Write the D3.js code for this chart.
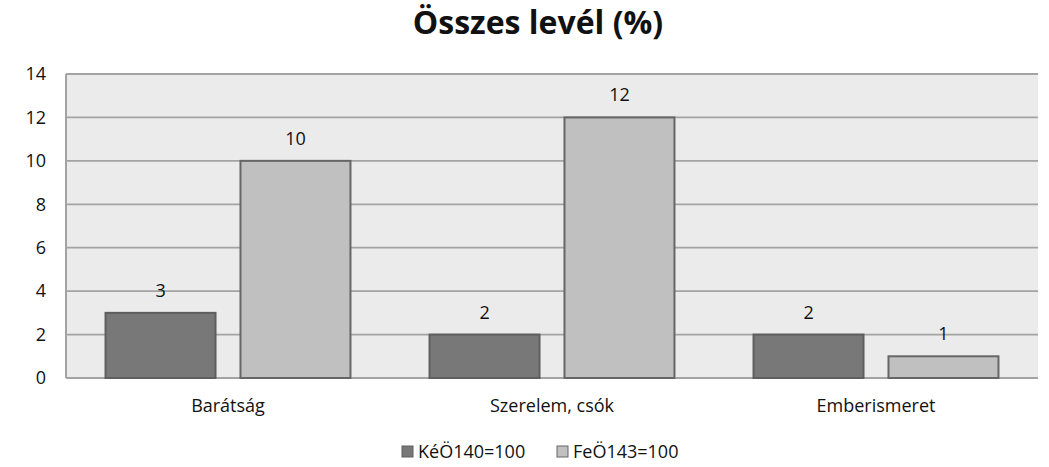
<!DOCTYPE html>
<html><head><meta charset="utf-8">
<script src="https://cdn.jsdelivr.net/npm/d3@7"></script>
<style>body{margin:0;background:#fff}svg{display:block}text{font-family:"Open Sans",sans-serif;fill:#111}</style>
</head><body>
<svg id="c" width="1049" height="467"></svg>
<script>
const categories = ["Barátság", "Szerelem, csók", "Emberismeret"];
const seriesNames = ["KéÖ140=100", "FeÖ143=100"];
const kevalues = [3, 2, 2];
const fevalues = [10, 12, 1];
const yTicks = [0, 2, 4, 6, 8, 10, 12, 14];
const colors = ["#787878", "#c0c0c0"];
const strokes = ["#5e5e5e", "#666666"];

const svg = d3.select("#c");
const L = 66, R = 1038, T = 74, B = 378;
const x = d3.scaleBand().domain(categories).range([L, R]).paddingInner(0).paddingOuter(0);
const xs = d3.scaleBand().domain([0, 1]).range([0, x.bandwidth()]).paddingInner(0.185).paddingOuter(0.293);
const y = d3.scaleLinear().domain([0, 14]).range([B, T]);

svg.append("rect").attr("x", L).attr("y", T).attr("width", R - L).attr("height", B - T).attr("fill", "#ebebeb");

svg.append("g").selectAll("line").data(yTicks).join("line")
  .attr("x1", L).attr("x2", R).attr("y1", d => y(d)).attr("y2", d => y(d))
  .attr("stroke", "#a3a3a3").attr("stroke-width", 1.8);
svg.append("line").attr("x1", L).attr("x2", L).attr("y1", T).attr("y2", B).attr("stroke", "#a3a3a3").attr("stroke-width", 2);

const yAxis = d3.axisLeft(y).tickValues(yTicks).tickSize(0).tickPadding(19);
const ga = svg.append("g").attr("transform", `translate(${L - 1},0)`).call(yAxis);
ga.select(".domain").remove();
ga.selectAll("text").style("font-size", "18px").attr("fill", "#111").style("font-family", "'Open Sans',sans-serif");

const xAxis = d3.axisBottom(x).tickSize(0).tickPadding(21);
const gx = svg.append("g").attr("transform", `translate(0,${B})`).call(xAxis);
gx.select(".domain").remove();
gx.selectAll("text").style("font-size", "18px").attr("fill", "#111").style("font-family", "'Open Sans',sans-serif");

const data = [kevalues, fevalues];
data.forEach((vals, s) => {
  const g = svg.append("g");
  g.selectAll("rect").data(vals).join("rect")
    .attr("x", (d, i) => x(categories[i]) + xs(s))
    .attr("y", d => y(d))
    .attr("width", xs.bandwidth())
    .attr("height", d => B - y(d))
    .attr("fill", colors[s]).attr("stroke", strokes[s]).attr("stroke-width", 2);
  g.selectAll("text").data(vals).join("text")
    .attr("x", (d, i) => x(categories[i]) + xs(s) + xs.bandwidth() / 2)
    .attr("y", d => y(d) - 16)
    .attr("text-anchor", "middle").style("font-size", "18px").text(d => d);
});

svg.append("text").attr("x", 538).attr("y", 34).attr("text-anchor", "middle")
  .style("font-size", "32px").style("font-weight", "bold").text("Összes levél (%)");

const legX = [402, 557];
seriesNames.forEach((n, s) => {
  svg.append("rect").attr("x", legX[s]).attr("y", 446).attr("width", 11).attr("height", 11)
    .attr("fill", colors[s]).attr("stroke", strokes[s]).attr("stroke-width", 1);
  svg.append("text").attr("x", legX[s] + 16).attr("y", 458).style("font-size", "18px").text(n);
});
</script>
</body></html>
